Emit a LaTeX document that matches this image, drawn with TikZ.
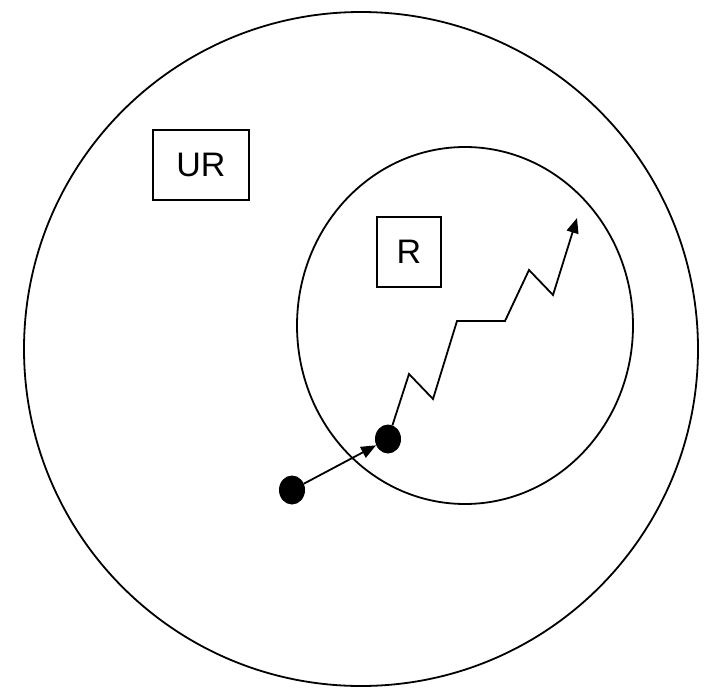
\documentclass[tikz,border=0pt]{standalone}
\usepackage{fontspec}
\setmainfont{Liberation Sans}
\usepackage{tikz}
\usetikzlibrary{shapes.geometric, arrows.meta, positioning}

\begin{document}
\begin{tikzpicture}[
  x=1pt, y=-1pt,
  ring/.style={draw, line width=1.8pt},
  label box/.style={rectangle, draw, line width=1.6pt, minimum height=70pt, inner sep=0pt, font=\fontsize{34}{40}\selectfont},
  dot/.style={ellipse, fill, minimum width=26pt, minimum height=29pt, inner sep=0pt},
  arrow/.style={-{Triangle[length=15pt, width=12pt]}, line width=1.8pt}
]
\useasboundingbox (0,0) rectangle (710,688);

\node (world) [ring, circle, minimum size=674pt, inner sep=0pt] at (361,349) {};
\node (region) [ring, ellipse, minimum width=336pt, minimum height=357pt, inner sep=0pt] at (465,325.5) {};

\node (ur) [label box, minimum width=96pt] at (201,165) {UR};
\node (r) [label box, minimum width=64pt] at (409,252) {R};

\node (start) [dot] at (292,490) {};
\node (hit) [dot] at (388,439) {};
\coordinate (goal) at (577,218);

\draw [arrow] (start) -- (hit);
\draw [arrow] (hit) -- (409,374) -- (433,399) -- (457,321) -- (505,321)
  -- (529,270) -- (553,295) -- (goal);

\end{tikzpicture}
\end{document}
